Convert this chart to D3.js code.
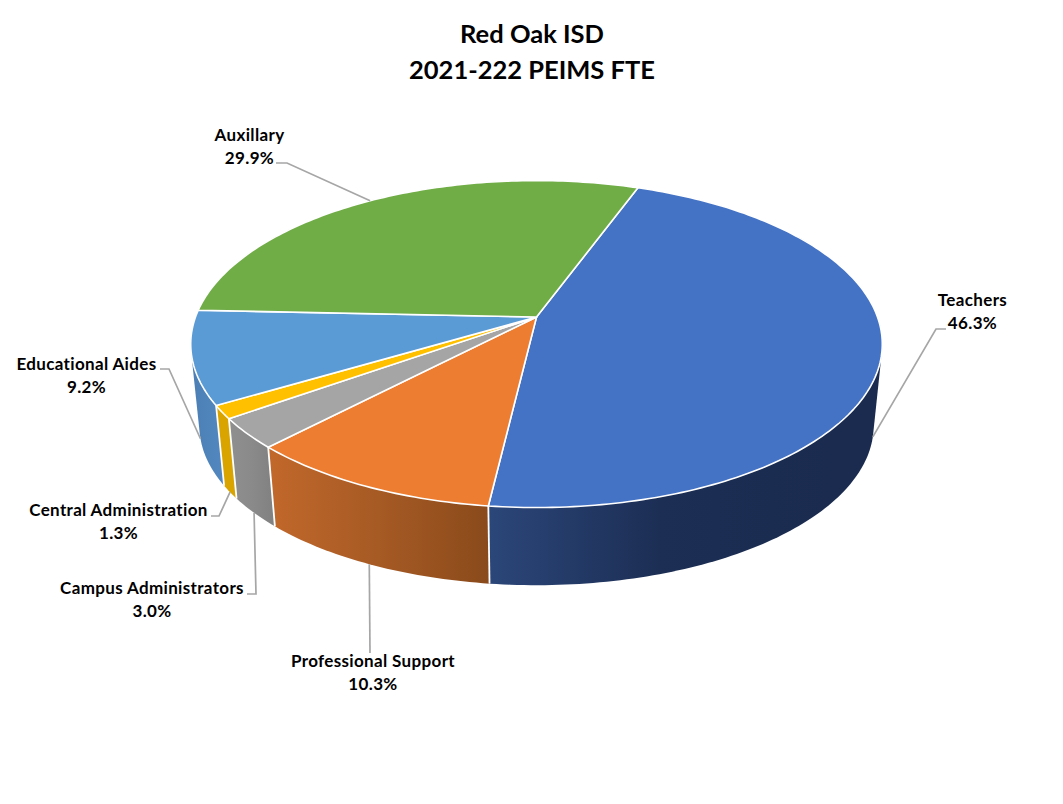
<!DOCTYPE html>
<html>
<head>
<meta charset="utf-8">
<script src="https://cdn.jsdelivr.net/npm/d3@7/dist/d3.min.js"></script>
<style>
html,body{margin:0;padding:0;background:#fff;}
svg{display:block;}
text{font-family:Lato,"Open Sans",sans-serif;font-weight:700;fill:#000;text-anchor:middle;}
</style>
</head>
<body>
<div id="chart"></div>
<script>
const titleLines = ["Red Oak ISD", "2021-222 PEIMS FTE"];
const categories = ["Teachers","Professional Support","Campus Administrators","Central Administration","Educational Aides","Auxillary"];
const shares = [46.3,10.3,3.0,1.3,9.2,29.9];

const topColors = ["#4472c4","#ed7d31","#a5a5a5","#ffc000","#5b9bd5","#70ad47"];
const sideStops = [["#2b4679","#1c2e54","#1a2b4f"],["#c2682b","#a65a24","#8a4a1b"],["#8f8f8f","#8a8a8a","#808080"],["#d9a400","#d9a400","#d9a400"],["#4a7eb3","#4f84bb","#5287bf"],["#5a8a39","#5a8a39","#5a8a39"]];

// label layout: text centre, first baseline, elbow end
const labelLayout = [
  {x:972.5,y:306,elbow:[[936,329],[946,329]]},
  {x:373,y:667,elbow:[[370,653]]},
  {x:152,y:594,elbow:[[256,594],[247,594]]},
  {x:118.5,y:516,elbow:[[219,516],[211,516]]},
  {x:86.5,y:370,elbow:[[169,369],[160,369]]},
  {x:249.5,y:141,elbow:[[287,163],[276,163]]}
];

const W=1063,H=804;
const startDeg=20.1, apexX=536.5, apexTop=317, apexBot=399.4, A=341, B=159, k=0.1656, rimScale=0.975;

const project=(theta,level)=>{
  const u=Math.sin(theta), v=-Math.cos(theta), d=1-k*v;
  const s=level===0?1:rimScale, cy=level===0?apexTop:apexBot;
  return [apexX+s*A*u/d, cy+s*B*v/d];
};
const pie=d3.pie().sort(null).startAngle(startDeg*Math.PI/180).endAngle(startDeg*Math.PI/180+2*Math.PI);
const arcs=pie(shares);
const sample=(a,b)=>{const n=Math.max(4,Math.ceil((b-a)*180/Math.PI));return d3.range(n+1).map(i=>a+(b-a)*i/n);};

const svg=d3.select("#chart").append("svg").attr("width",W).attr("height",H);
const defs=svg.append("defs");

// side walls
const order=[5,0,1,2,3,4];
order.forEach(i=>{
  const a=arcs[i], ts=sample(a.startAngle,a.endAngle);
  const pts=ts.flatMap(t=>[project(t,0),project(t,1)]);
  const hull=d3.polygonHull(pts);
  const xs=d3.extent(pts.filter(p=>p[1]>apexTop+20),p=>p[0]);
  const id="side"+i;
  const g=defs.append("linearGradient").attr("id",id).attr("gradientUnits","userSpaceOnUse")
    .attr("x1",i===0?project(a.endAngle,1)[0]:xs[0]).attr("x2",i===0?project(a.endAngle,1)[0]+ 340:xs[1]).attr("y1",0).attr("y2",0);
  sideStops[i].forEach((c,j)=>g.append("stop").attr("offset",j/2).attr("stop-color",c));
  svg.append("path").attr("d","M"+hull.join("L")+"Z").attr("fill",`url(#${id})`);
});
// white edges between front side walls
arcs.forEach(a=>{
  if(Math.cos(a.endAngle)<0){
    const p=project(a.endAngle,0), q=project(a.endAngle,1);
    svg.append("line").attr("x1",p[0]).attr("y1",p[1]).attr("x2",q[0]).attr("y2",q[1])
      .attr("stroke","#fff").attr("stroke-width",1.8);
  }
});
// top faces
const line=d3.line();
arcs.forEach((a,i)=>{
  const pts=sample(a.startAngle,a.endAngle).map(t=>project(t,0));
  svg.append("path").attr("d",line([[apexX,apexTop],...pts])+"Z")
    .attr("fill",topColors[i]).attr("stroke","#fff").attr("stroke-width",1.6).attr("stroke-linejoin","round");
});
// leader lines
arcs.forEach((a,i)=>{
  const mid=(a.startAngle+a.endAngle)/2;
  const level=i===5?0:1;
  const start=project(mid,level);
  const pts=[start,...labelLayout[i].elbow];
  svg.append("path").attr("d",line(pts)).attr("fill","none").attr("stroke","#a6a6a6").attr("stroke-width",1.7);
});
// labels
const fmt=d3.format(".1f");
categories.forEach((c,i)=>{
  const l=labelLayout[i];
  svg.append("text").attr("x",l.x).attr("y",l.y).attr("font-size",17).attr("letter-spacing",0.35).text(c);
  svg.append("text").attr("x",l.x).attr("y",l.y+23).attr("font-size",17).attr("letter-spacing",0.35).text(fmt(shares[i])+"%");
});
// title
titleLines.forEach((t,i)=>{
  svg.append("text").attr("x",532).attr("y",43+i*36).attr("font-size",25.5).text(t);
});
</script>
</body>
</html>
